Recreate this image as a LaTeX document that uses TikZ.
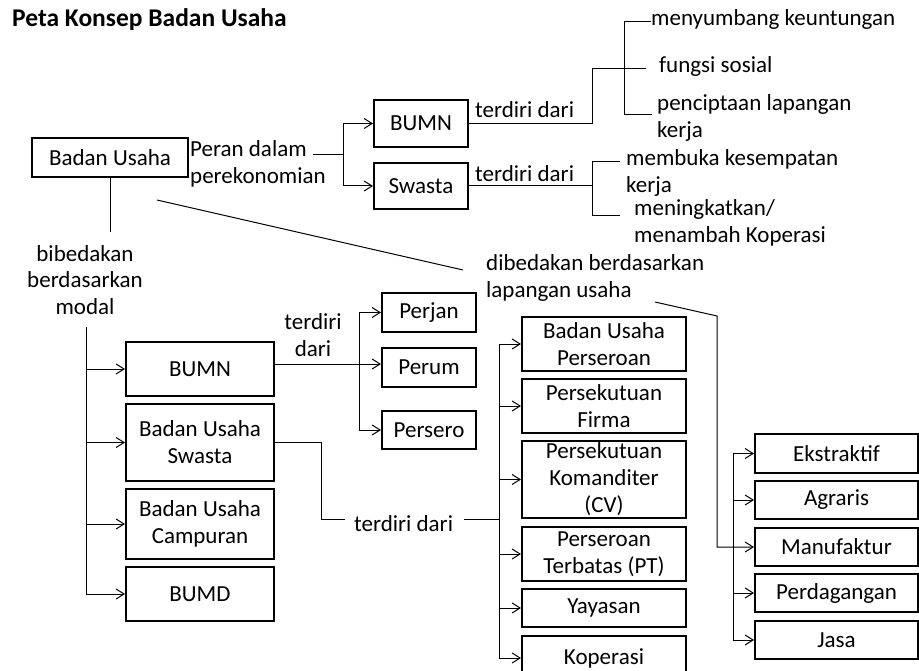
\documentclass[tikz,border=0pt]{standalone}
\usepackage{fontspec}
\setmainfont{Carlito}
\usetikzlibrary{arrows.meta}
\newcommand\fs{\fontsize{23}{27}\selectfont}
\tikzset{
  box/.style={draw, line width=2pt, inner sep=0pt, align=center, font=\fs},
  txt/.style={inner sep=0pt, font=\fs},
  con/.style={line width=1pt},
  arr/.style={con, -{Straight Barb[length=8pt,width=10pt]}},
}
\begin{document}
\begin{tikzpicture}[x=1pt,y=-1pt]
\useasboundingbox (0,0) rectangle (919,671);
% title
\node[anchor=base west, inner sep=0pt, font=\fontsize{25.5}{30}\selectfont\bfseries] (title) at (12,27) {Peta Konsep Badan Usaha};
% top part
\node[box, minimum width=156, minimum height=39] (bu) at (110,157.5) {Badan Usaha};
\node[box, minimum width=94, minimum height=47] (bumnA) at (421,123.5) {BUMN};
\node[box, minimum width=94, minimum height=46] (swA) at (421,186) {Swasta};
\node[txt, anchor=base west, align=left] (peran) at (190,184) {Peran dalam\\perekonomian};
\coordinate (p1) at (313,155);
\coordinate (j1) at (343,155);
\draw[con] (p1) -- (j1);
\draw[arr] (j1) |- (bumnA.west);
\draw[arr] (j1) |- (swA.west);
\node[txt, anchor=base west] (td1) at (475,118) {terdiri dari};
\node[txt, anchor=base west] (td2) at (475,182) {terdiri dari};
\node[txt, anchor=base west] (meny) at (651,26) {menyumbang keuntungan};
\node[txt, anchor=base west] (fung) at (659,73) {fungsi sosial};
\node[txt, anchor=base west, align=left] (penc) at (657,138) {penciptaan lapangan\\kerja};
\node[txt, anchor=base west, align=left] (memb) at (626,193) {membuka kesempatan\\kerja};
\node[txt, anchor=base west, align=left] (meni) at (634,243) {meningkatkan/\\menambah Koperasi};
\coordinate (k1) at (592,69);
\coordinate (e1) at (646,69);
\draw[con] (bumnA.east) -| (k1) -- (e1);
\coordinate (k2) at (624,22);
\coordinate (k3) at (624,115);
\coordinate (e3) at (652,115);
\draw[con] (k2 -| meny.west) -- (k2) -- (k3) -- (e3);
\coordinate (k5) at (592,162);
\coordinate (k6) at (592,216);
\coordinate (e5) at (620,162);
\coordinate (e6) at (620,216);
\draw[con] (swA.east) -- (swA.east -| k5);
\draw[con] (e5) -- (k5) -- (k6) -- (e6);
% diagonal
\node[txt, anchor=base west, align=left] (dib) at (486,298) {dibedakan berdasarkan\\lapangan usaha};
\coordinate (d1) at (157,200);
\coordinate (d2) at (463,270);
\draw[con] (d1) -- (d2);
% left branch
\node[txt, anchor=base, align=center] (bib) at (85,315) {bibedakan\\berdasarkan\\modal};
\draw[con] (bu.south) -- ++(0,54);
\node[box, minimum width=148, minimum height=54] (bumnL) at (200,369) {BUMN};
\node[box, minimum width=148, minimum height=77] (swL) at (200,442.5) {Badan Usaha\\Swasta};
\node[box, minimum width=148, minimum height=70] (campL) at (200,524) {Badan Usaha\\Campuran};
\node[box, minimum width=148, minimum height=54] (bumdL) at (200,594) {BUMD};
\coordinate (t0) at (86,327);
\draw[arr] (t0) |- (bumdL.west);
\draw[arr] (bumnL.west -| t0) -- (bumnL.west);
\draw[arr] (swL.west -| t0) -- (swL.west);
\draw[arr] (campL.west -| t0) -- (campL.west);
% BUMN -> Perjan etc
\node[box, minimum width=94, minimum height=39] (perjan) at (429,312.5) {Perjan};
\node[box, minimum width=94, minimum height=39] (perum) at (429,367.5) {Perum};
\node[box, minimum width=94, minimum height=38] (persero) at (429,430) {Persero};
\node[txt, anchor=base, align=center] (td3) at (313,356) {terdiri\\dari};
\coordinate (m1) at (359,364);
\draw[arr] ([yshift=5pt]bumnL.east) -- ([yshift=5pt]bumnL.east -| perum.west);
\draw[arr] (perjan.west -| m1) -- (perjan.west);
\draw[arr] (perjan.west -| m1) |- (persero.west);
% Swasta -> forms
\node[txt, anchor=base west] (td4) at (354,531) {terdiri dari};
\coordinate (c1) at (321,519);
\coordinate (c2) at (345,519);
\coordinate (c3) at (464,519);
\coordinate (c4) at (499,519);
\draw[con] (swL.east) -| (c1) -- (c2);
\draw[con] (c3) -- (c4);
\node[box, minimum width=164, minimum height=54] (bup) at (604,344) {Badan Usaha\\Perseroan};
\node[box, minimum width=164, minimum height=54] (firma) at (604,406) {Persekutuan\\Firma};
\node[box, minimum width=164, minimum height=77] (cv) at (604,479.5) {Persekutuan\\Komanditer\\(CV)};
\node[box, minimum width=164, minimum height=54] (pt) at (604,554) {Perseroan\\Terbatas (PT)};
\node[box, minimum width=164, minimum height=38] (yay) at (604,608) {Yayasan};
\node[box, minimum width=164, minimum height=44] (kop) at (604,658) {Koperasi};
\draw[arr] (bup.west -| c4) |- (kop.west);
\draw[arr] (bup.west -| c4) -- (bup.west);
\draw[arr] (firma.west -| c4) -- (firma.west);
\draw[arr] (cv.west -| c4) -- (cv.west);
\draw[arr] (pt.west -| c4) -- (pt.west);
\draw[arr] (yay.west -| c4) -- (yay.west);
% right column
\node[box, minimum width=163, minimum height=39] (ekst) at (836.5,453.5) {Ekstraktif};
\node[box, minimum width=163, minimum height=38] (agr) at (836.5,500) {Agraris};
\node[box, minimum width=163, minimum height=38] (manu) at (836.5,547) {Manufaktur};
\node[box, minimum width=163, minimum height=38] (perd) at (836.5,593) {Perdagangan};
\node[box, minimum width=163, minimum height=38] (jasa) at (836.5,640) {Jasa};
\coordinate (r1) at (733,500);
\draw[arr] (ekst.west -| r1) |- (jasa.west);
\draw[arr] (ekst.west -| r1) -- (ekst.west);
\draw[arr] (agr.west -| r1) -- (agr.west);
\draw[arr] (perd.west -| r1) -- (perd.west);
\coordinate (d3) at (655,302);
\coordinate (d4) at (717,316);
\draw[arr] (d3) -- (d4) |- (manu.west);
\end{tikzpicture}
\end{document}
